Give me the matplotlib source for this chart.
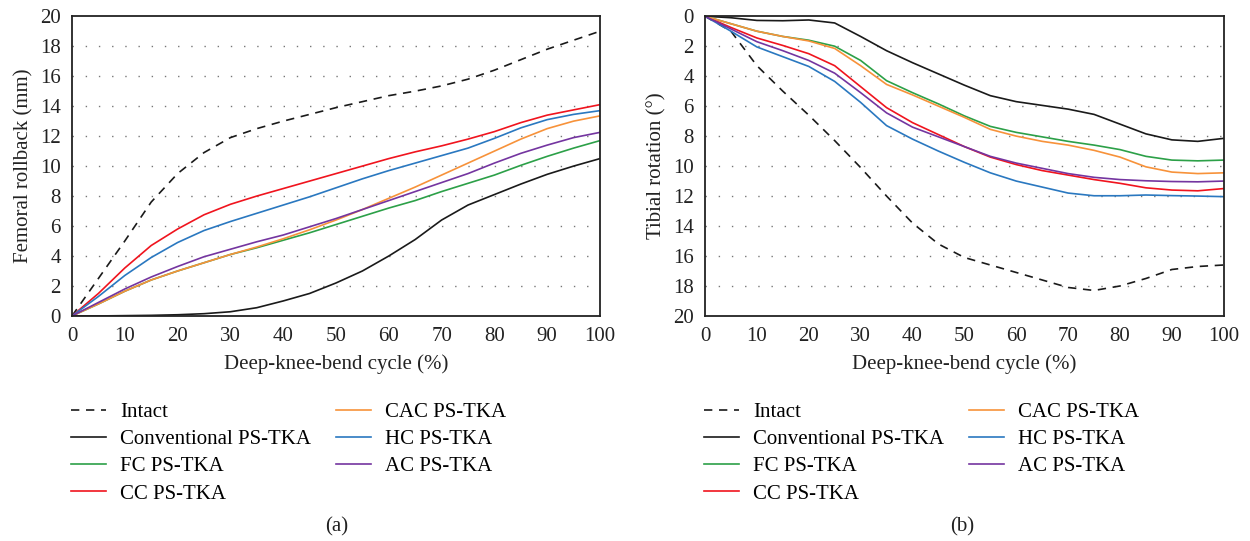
import matplotlib.pyplot as plt
import numpy as np

plt.rcParams['font.family'] = ['Liberation Serif', 'DejaVu Serif']

# Deep-knee-bend cycle (%)
cycle = [0, 5, 10, 15, 20, 25, 30, 35, 40, 45, 50, 55, 60, 65, 70, 75, 80, 85, 90, 95, 100]

labels = ['Intact', 'Conventional PS-TKA', 'FC PS-TKA', 'CC PS-TKA',
          'CAC PS-TKA', 'HC PS-TKA', 'AC PS-TKA']
colors = ['#1a1a1a', '#1a1a1a', '#2ca048', '#f0141e', '#f7923a', '#2a78c0', '#7435a0']
styles = [(0, (5, 4)), '-', '-', '-', '-', '-', '-']

# (a) femoral rollback (mm)
roll_intact = [0, 2.5, 5.0, 7.6, 9.5, 10.9, 11.9, 12.5, 13.0, 13.45, 13.9, 14.3, 14.7, 15.0, 15.35, 15.8, 16.4, 17.1, 17.8, 18.4, 19.0]
roll_conv = [0, 0, 0.02, 0.04, 0.08, 0.15, 0.28, 0.55, 1.0, 1.5, 2.2, 3.0, 4.0, 5.1, 6.4, 7.4, 8.1, 8.8, 9.45, 10.0, 10.5]
roll_fc = [0, 0.8, 1.65, 2.4, 3.0, 3.55, 4.1, 4.55, 5.05, 5.55, 6.1, 6.65, 7.2, 7.7, 8.3, 8.85, 9.4, 10.05, 10.65, 11.2, 11.7]
roll_cc = [0, 1.5, 3.2, 4.7, 5.8, 6.75, 7.45, 8.0, 8.5, 9.0, 9.5, 10.0, 10.5, 10.95, 11.35, 11.8, 12.3, 12.9, 13.4, 13.75, 14.1]
roll_cac = [0, 0.8, 1.65, 2.4, 3.0, 3.55, 4.1, 4.6, 5.15, 5.75, 6.4, 7.1, 7.85, 8.6, 9.4, 10.2, 11.0, 11.8, 12.5, 13.0, 13.35]
roll_hc = [0, 1.3, 2.7, 3.9, 4.9, 5.7, 6.3, 6.85, 7.4, 7.95, 8.55, 9.15, 9.7, 10.2, 10.7, 11.2, 11.85, 12.55, 13.1, 13.45, 13.7]
roll_ac = [0, 0.9, 1.8, 2.6, 3.3, 3.95, 4.45, 4.95, 5.4, 5.95, 6.5, 7.1, 7.7, 8.3, 8.9, 9.5, 10.2, 10.85, 11.4, 11.9, 12.25]

# (b) tibial rotation (deg)
rot_intact = [0, 1.0, 3.3, 5.0, 6.6, 8.3, 10.1, 12.0, 13.8, 15.2, 16.1, 16.6, 17.1, 17.6, 18.1, 18.3, 18.0, 17.5, 16.9, 16.7, 16.6]
rot_conv = [0, 0.1, 0.28, 0.3, 0.25, 0.45, 1.35, 2.3, 3.1, 3.85, 4.6, 5.3, 5.7, 5.95, 6.2, 6.55, 7.2, 7.85, 8.25, 8.35, 8.15]
rot_fc = [0, 0.5, 1.0, 1.35, 1.6, 2.0, 2.95, 4.3, 5.1, 5.85, 6.65, 7.35, 7.75, 8.05, 8.35, 8.6, 8.9, 9.35, 9.6, 9.65, 9.6]
rot_cc = [0, 0.75, 1.45, 1.95, 2.5, 3.3, 4.7, 6.1, 7.1, 7.9, 8.7, 9.4, 9.9, 10.3, 10.6, 10.9, 11.15, 11.45, 11.6, 11.65, 11.5]
rot_cac = [0, 0.5, 1.0, 1.35, 1.65, 2.15, 3.3, 4.55, 5.25, 6.0, 6.75, 7.55, 8.0, 8.35, 8.6, 8.95, 9.4, 10.05, 10.4, 10.5, 10.45]
rot_hc = [0, 1.0, 2.05, 2.7, 3.35, 4.35, 5.75, 7.3, 8.2, 9.0, 9.75, 10.45, 11.0, 11.4, 11.8, 11.98, 11.98, 11.93, 11.97, 12.0, 12.04]
rot_ac = [0, 0.85, 1.7, 2.3, 2.95, 3.8, 5.1, 6.45, 7.4, 8.05, 8.7, 9.35, 9.8, 10.15, 10.5, 10.75, 10.9, 10.98, 11.03, 11.05, 11.0]

roll_series = [roll_intact, roll_conv, roll_fc, roll_cc, roll_cac, roll_hc, roll_ac]
rot_series = [rot_intact, rot_conv, rot_fc, rot_cc, rot_cac, rot_hc, rot_ac]
yticks = [0, 2, 4, 6, 8, 10, 12, 14, 16, 18, 20]

fig = plt.figure(figsize=(12.5, 5.41), dpi=100)
ax1 = fig.add_axes([0.0576, 0.416, 0.4224, 0.554])
ax2 = fig.add_axes([0.564, 0.416, 0.415, 0.554])

for ax, series, ylabel in [(ax1, roll_series, 'Femoral rollback (mm)'),
                           (ax2, rot_series, 'Tibial rotation (°)')]:
    for y, lab, c, ls in zip(series, labels, colors, styles):
        ax.plot(cycle, y, color=c, linestyle=ls, linewidth=1.2, label=lab)
    ax.set_xlim(0, 100)
    ax.set_xticks(range(0, 101, 10))
    ax.set_yticks(yticks)
    for t in yticks[1:-1]:
        ax.axhline(t, color='#777777', linestyle=(0, (1, 8.5)), linewidth=1.0, zorder=0)
    ax.tick_params(length=0, labelsize=15, pad=8, colors='#222222')
    for s in ax.spines.values():
        s.set_color('#222222')
        s.set_linewidth(1.3)
    ax.set_xlabel('Deep-knee-bend cycle (%)', fontsize=15, labelpad=6, color='#222222')
    ax.set_ylabel(ylabel, fontsize=15, labelpad=5, color='#222222')
    ax.legend(loc='upper left', bbox_to_anchor=(-0.002, -0.288), ncol=2, frameon=False,
              fontsize=15, handlelength=1.68, handletextpad=0.67, columnspacing=1.2,
              labelspacing=0.37, borderaxespad=0, borderpad=0)

ax1.set_ylim(0, 20)
ax2.set_ylim(20, 0)

fig.text(0.269, 0.0259, '(a)', fontsize=15, ha='center', va='center', color='#222222')
fig.text(0.77, 0.0259, '(b)', fontsize=15, ha='center', va='center', color='#222222')

fig.savefig('out.png', dpi=100)
